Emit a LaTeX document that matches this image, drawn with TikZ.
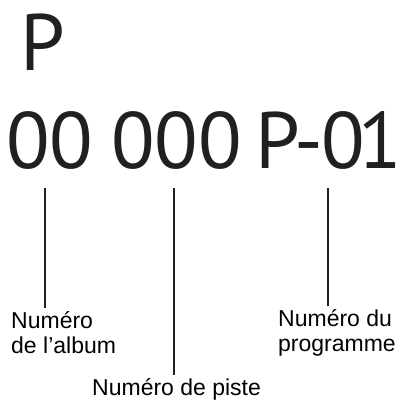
\documentclass[tikz,border=0pt]{standalone}
\usepackage{fontspec}
\setmainfont{Liberation Sans}
\newfontfamily\bigfont{PT Sans}
\definecolor{ink}{HTML}{231F20}
\begin{document}
\begin{tikzpicture}[x=1pt,y=-1pt,
  lab/.style={inner sep=0pt,align=left,font=\fontsize{23}{25}\selectfont},
  big/.style={inner sep=0pt,text=ink,anchor=base west,font=\bigfont\fontsize{80}{80}\selectfont},
  conn/.style={line width=1.8pt,draw=ink}]
\useasboundingbox (0,0) rectangle (401,400);
\node[big] (p) at (20,70) {P};
\node[big] (g1) at (6,168) {00};
\node[big] (g2) at (111,168) {000};
\node[big] (g3) at (255,168) {P\kern-6pt-\kern-1.5pt 0\kern-6.5pt 1};
\node[lab,anchor=north west] (album) at (11,311) {Numéro\\de l’album};
\node[lab,anchor=north west] (piste) at (92,378) {Numéro de piste};
\node[lab,anchor=north west] (prog) at (278,309) {Numéro du\\programme};
\coordinate (t1) at (45,188);
\coordinate (t2) at (174,188);
\coordinate (t3) at (328,188);
\draw[conn] (t1) -- ([yshift=3pt]t1 |- album.north);
\draw[conn] (t2) -- ([yshift=3pt]t2 |- piste.north);
\draw[conn] (t3) -- ([yshift=3pt]t3 |- prog.north);
\end{tikzpicture}
\end{document}
